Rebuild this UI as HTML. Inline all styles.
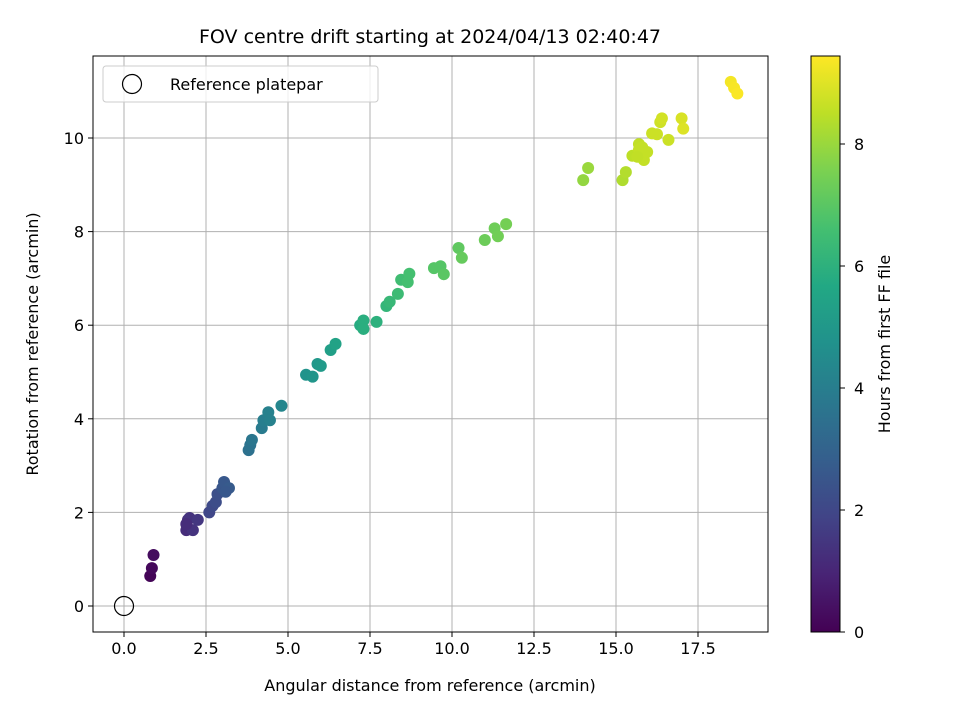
<!DOCTYPE html>
<html><head><meta charset="utf-8"><style>
body{margin:0;background:#fff;font-family:"Liberation Sans","DejaVu Sans",sans-serif}
text{font-family:"DejaVu Sans","Liberation Sans",sans-serif}
</style></head><body>
<svg id="chart" width="960" height="720" xmlns="http://www.w3.org/2000/svg">
<defs><linearGradient id="vir" x1="0" y1="1" x2="0" y2="0">
<stop offset="0" stop-color="#440154"/><stop offset="0.1" stop-color="#482475"/><stop offset="0.2" stop-color="#414487"/><stop offset="0.3" stop-color="#355f8d"/><stop offset="0.4" stop-color="#2a788e"/><stop offset="0.5" stop-color="#21918c"/><stop offset="0.6" stop-color="#22a884"/><stop offset="0.7" stop-color="#44bf70"/><stop offset="0.8" stop-color="#7ad151"/><stop offset="0.9" stop-color="#bddf26"/><stop offset="1" stop-color="#fde725"/></linearGradient></defs>
<g id="plot"></g>
</svg>
<script>
const xs=[0.8,0.85,0.9,1.9,1.95,2.0,2.1,2.25,1.9,2.6,2.7,2.8,2.85,3.0,3.05,3.2,3.1,3.8,3.85,3.9,4.2,4.25,4.4,4.45,4.8,5.55,5.75,5.9,6.0,6.3,6.45,7.2,7.3,7.3,7.7,8.0,8.1,8.35,8.45,8.65,8.7,9.45,9.65,9.75,10.2,10.3,11.0,11.3,11.4,11.65,14.0,14.15,15.2,15.3,15.5,15.7,15.85,15.95,16.25,16.35,16.4,16.6,17.0,17.05,18.5,18.6,18.7,15.7,15.8,16.1,15.65];
const ys=[0.64,0.81,1.09,1.62,1.84,1.88,1.62,1.84,1.75,2.0,2.14,2.22,2.39,2.52,2.65,2.52,2.44,3.33,3.44,3.55,3.8,3.97,4.14,3.97,4.28,4.94,4.9,5.17,5.13,5.47,5.6,6.0,6.1,5.92,6.07,6.41,6.5,6.67,6.97,6.92,7.1,7.22,7.26,7.09,7.65,7.44,7.82,8.07,7.9,8.16,9.1,9.36,9.1,9.27,9.62,9.87,9.53,9.7,10.08,10.34,10.42,9.96,10.42,10.2,11.2,11.07,10.95,9.75,9.8,10.1,9.6];
const hrs=[0.1,0.2,0.3,1.2,1.3,1.4,1.4,1.5,1.2,2.0,2.1,2.2,2.3,2.5,2.6,2.7,2.6,3.5,3.6,3.7,3.9,4.0,4.1,4.1,4.3,4.8,4.9,5.0,5.1,5.3,5.4,5.8,5.9,5.9,6.0,6.2,6.3,6.4,6.5,6.6,6.6,6.9,6.9,7.0,7.1,7.2,7.3,7.35,7.4,7.45,7.9,8.0,8.3,8.35,8.5,8.55,8.6,8.6,8.7,8.75,8.8,8.7,8.9,8.95,9.3,9.35,9.4,8.6,8.6,8.7,8.55];
const xTicks=[0,2.5,5,7.5,10,12.5,15,17.5];
const yTicks=[0,2,4,6,8,10];
const cTicks=[0,2,4,6,8];
const L=93,R=768,T=56,B=632;
const sx=v=>124+v*32.8, sy=v=>606-v*46.8, sc=v=>632-v*61;
const vir=["#440154","#482475","#414487","#355f8d","#2a788e","#21918c","#22a884","#44bf70","#7ad151","#bddf26","#fde725"];
function col(h){let t=Math.max(0,Math.min(1,h/9.44))*10;let i=Math.min(9,Math.floor(t)),f=t-i;
const a=vir[i],b=vir[i+1];const p=(c,k)=>parseInt(c.substr(1+2*k,2),16);
return "rgb("+[0,1,2].map(k=>Math.round(p(a,k)+(p(b,k)-p(a,k))*f)).join(",")+")";}
const g=document.getElementById('plot');const NS="http://www.w3.org/2000/svg";
function el(t,at,txt){const e=document.createElementNS(NS,t);for(const k in at)e.setAttribute(k,at[k]);if(txt!==undefined)e.textContent=txt;g.appendChild(e);return e;}
xTicks.forEach(v=>{const x=sx(v);
let e=el('line',{x1:x,x2:x,y1:T,y2:B,stroke:'#b0b0b0','stroke-width':1});
e=el('line',{x1:x,x2:x,y1:B,y2:B+5,stroke:'#000'});
e=el('text',{x:x,y:B+22,'text-anchor':'middle','font-size':16},v.toFixed(1));});
yTicks.forEach(v=>{const y=sy(v);
let e=el('line',{x1:L,x2:R,y1:y,y2:y,stroke:'#b0b0b0','stroke-width':1});
e=el('line',{x1:L-5,x2:L,y1:y,y2:y,stroke:'#000'});
e=el('text',{x:L-9,y:y+6,'text-anchor':'end','font-size':16},String(v));});
xs.forEach((x,i)=>{const e=el('circle',{cx:sx(x),cy:sy(ys[i]),r:6,fill:col(hrs[i])});});
let e=el('circle',{cx:sx(0),cy:sy(0),r:9.5,fill:'none',stroke:'#000','stroke-width':1.2});
e=el('rect',{x:L,y:T,width:R-L,height:B-T,fill:'none',stroke:'#000','stroke-width':1});
e=el('rect',{x:103,y:66,width:275,height:36,rx:3,fill:'#fff','fill-opacity':0.8,stroke:'#ccc'});
e=el('circle',{cx:132,cy:84,r:9.5,fill:'none',stroke:'#000','stroke-width':1.2});
e=el('text',{x:170,y:90,'font-size':16},'Reference platepar');
e=el('text',{x:430,y:43,'text-anchor':'middle','font-size':19},'FOV centre drift starting at 2024/04/13 02:40:47');
e=el('text',{x:430,y:691,'text-anchor':'middle','font-size':16},'Angular distance from reference (arcmin)');
e=el('text',{x:38,y:344,'text-anchor':'middle','font-size':16,transform:'rotate(-90 38 344)'},'Rotation from reference (arcmin)');
e=el('rect',{x:811,y:T,width:29,height:B-T,fill:'url(#vir)',stroke:'#000'});
cTicks.forEach(v=>{const y=sc(v);
let t=el('line',{x1:840,x2:845,y1:y,y2:y,stroke:'#000'});
t=el('text',{x:854,y:y+6,'font-size':16},String(v));});
e=el('text',{x:890,y:344,'text-anchor':'middle','font-size':16,transform:'rotate(-90 890 344)'},'Hours from first FF file');
</script>
</body></html>
